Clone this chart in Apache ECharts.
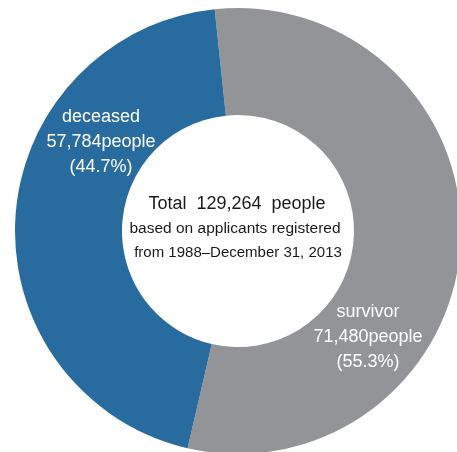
<!DOCTYPE html>
<html>
<head>
<meta charset="utf-8">
<script src="https://cdn.jsdelivr.net/npm/echarts@6/dist/echarts.min.js"></script>
<style>
html,body{margin:0;padding:0;background:#fff;}
#c{width:457px;height:452px;}
</style>
</head>
<body>
<div id="c"></div>
<script>
const categories = ['survivor', 'deceased'];
const values = [71480, 57784];
const percents = ['55.3%', '44.7%'];
const colors = ['#929497', '#276b9f'];
const totalText = 'Total  129,264  people';
const noteLines = ['based on applicants registered', 'from 1988\u2013December 31, 2013'];

const chart = echarts.init(document.getElementById('c'), null, {renderer: 'canvas'});
const font = '"Liberation Sans", Arial, sans-serif';

function sliceLabel(i, x, y) {
  return {
    type: 'text', x: x, y: y, z: 100,
    style: {
      text: categories[i] + '\n' + values[i].toLocaleString('en-US') + 'people\n(' + percents[i] + ')',
      fill: '#ffffff', font: '18px ' + font, lineHeight: 25,
      textAlign: 'center', textVerticalAlign: 'middle'
    }
  };
}

chart.setOption({
  animation: false,
  backgroundColor: '#ffffff',
  series: [{
    type: 'pie',
    center: [238, 231],
    radius: [116, 223],
    startAngle: 96,
    clockwise: true,
    silent: true,
    label: {show: false},
    labelLine: {show: false},
    itemStyle: {borderWidth: 0},
    data: categories.map((c, i) => ({name: c, value: values[i], itemStyle: {color: colors[i]}}))
  }],
  graphic: [
    {type: 'text', x: 237, y: 204, z: 100, style: {text: totalText, fill: '#1a1a1a', font: '18px ' + font, textAlign: 'center', textVerticalAlign: 'middle'}},
    {type: 'text', x: 235, y: 229, z: 100, style: {text: noteLines[0], fill: '#1a1a1a', font: '15.5px ' + font, textAlign: 'center', textVerticalAlign: 'middle'}},
    {type: 'text', x: 238, y: 253, z: 100, style: {text: noteLines[1], fill: '#1a1a1a', font: '15px ' + font, textAlign: 'center', textVerticalAlign: 'middle'}},
    sliceLabel(1, 101, 142),
    sliceLabel(0, 368, 337)
  ]
});
</script>
</body>
</html>
